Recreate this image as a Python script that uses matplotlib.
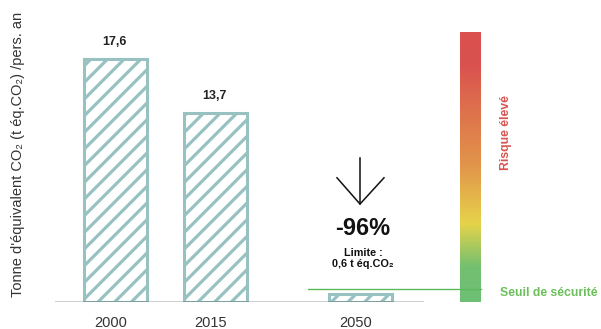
import numpy as np
import matplotlib
matplotlib.use("Agg")
import matplotlib.pyplot as plt
from matplotlib.colors import LinearSegmentedColormap

plt.rcParams['font.family'] = ['Liberation Sans', 'DejaVu Sans']
plt.rcParams['hatch.linewidth'] = 2.3

# data
annees = ['2000', '2015', '2050']
positions = [0, 1, 2.45]
emissions = [17.6, 13.7, 0.6]
etiquettes = ['17,6', '13,7', '']
seuil = 0.95

# gradient bar colours (bottom -> top)
stops = [0.0, 0.13, 0.29, 0.5, 0.75, 0.88, 1.0]
couleurs = ['#6dbf74', '#74c070', '#e6d34a', '#e2964a', '#dd6a4d', '#d9524f', '#d9504f']

bar_col = '#98c2c2'

fig = plt.figure(figsize=(6.01, 3.29), dpi=100)
ax = fig.add_axes([55/601, 27/329, 546/601, 276/329])
ax.set_xlim(-0.6, 4.86)
ax.set_ylim(0, 20)
ax.axis('off')

ax.bar(positions, emissions, width=0.63, color='white', edgecolor=bar_col,
       linewidth=2.2, hatch='//', zorder=2)
for x, v, t in zip(positions, emissions, etiquettes):
    if t:
        ax.text(x - 0.01, v + 0.8, t, ha='center', va='bottom', fontsize=9,
                fontweight='bold', color='#222222')

# baseline
ax.plot([-0.6, 3.08], [0, 0], color='#111111', lw=1.0, zorder=3)
for x, lab in zip(positions, annees):
    ax.text(x - 0.04, -1.5, lab, ha='center', va='center', fontsize=10.5, color='#333333')

# risk gradient column
cmap = LinearSegmentedColormap.from_list('risque', list(zip(stops, couleurs)))
grad = np.linspace(0, 1, 256).reshape(-1, 1)
ax.imshow(grad, cmap=cmap, origin='lower', aspect='auto',
          extent=[3.45, 3.66, 0, 19.55], zorder=1)

# safety threshold line
ax.plot([1.93, 3.66], [seuil, seuil], color='#5cb85c', lw=1.0, zorder=4)

ax.text(3.91, 12.3, 'Risque élevé', rotation=90, ha='center', va='center',
        fontsize=8.8, fontweight='bold', color='#d9534f')
ax.text(3.85, 0.65, 'Seuil de sécurité', ha='left', va='center',
        fontsize=8.8, fontweight='bold', color='#6cbf5a')

# arrow
ax.plot([2.45, 2.45], [10.4, 7.1], color='#111111', lw=1.1)
ax.plot([2.22, 2.45, 2.69], [9.0, 7.1, 9.0], color='#111111', lw=1.1)
ax.text(2.48, 5.35, '-96%', ha='center', va='center', fontsize=17,
        fontweight='bold', color='#111111')
ax.text(2.48, 3.15, 'Limite :\n0,6 t éq.CO₂', ha='center', va='center',
        fontsize=7.8, fontweight='bold', color='#111111', linespacing=1.05)

fig.text(18/601, 1 - 154/329, "Tonne d'équivalent CO₂ (t éq.CO₂) /pers. an",
         rotation=90, ha='center', va='center', fontsize=10.5, color='#333333')

fig.savefig('out.png', dpi=100)
